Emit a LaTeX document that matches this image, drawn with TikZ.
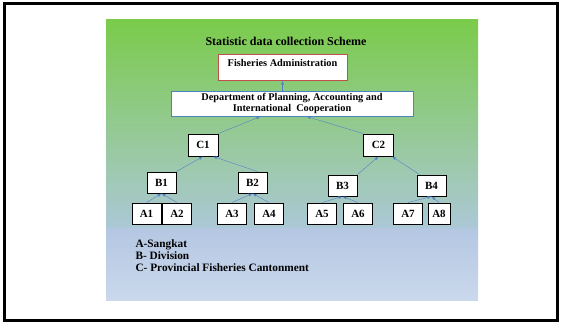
\documentclass[tikz,border=0pt]{standalone}
\usepackage{fontspec}
\setmainfont{Liberation Serif}
\usepackage{tikz}
\usetikzlibrary{arrows}
\usetikzlibrary{calc}
\definecolor{topgreen}{RGB}{122,203,74}
\definecolor{midgreen}{RGB}{160,204,150}
\definecolor{lowteal}{RGB}{172,200,214}
\definecolor{lowblue}{RGB}{180,199,226}
\definecolor{paleblue}{RGB}{202,216,236}
\definecolor{linkblue}{RGB}{84,130,200}
\definecolor{boxred}{RGB}{192,80,77}
\definecolor{boxblue}{RGB}{79,129,189}

\begin{document}
\begin{tikzpicture}[x=1pt,y=-1pt,
  unit/.style={draw,line width=1pt,fill=white,inner sep=0pt,minimum width=29pt,minimum height=21pt,font=\bfseries\fontsize{11}{12}\selectfont},
  link/.style={->,>=latex,thin,linkblue}]
\useasboundingbox (0,0) rectangle (561,322);
\draw[line width=3pt] (4.5,3.5) rectangle (557,320);

% background panel
\shade[top color=topgreen,middle color=midgreen,bottom color=lowteal] (106,19) rectangle (478,228);
\shade[top color=lowblue,bottom color=paleblue] (106,228) rectangle (478,300);

\node[font=\bfseries\fontsize{12}{14}\selectfont] (title) at (286,41) {Statistic data collection Scheme};

\node[draw=boxred,line width=1pt,fill=white,minimum width=129pt,inner sep=0pt,text height=12.5pt,text depth=13.5pt,font=\bfseries\fontsize{10.3}{12}\selectfont] (fa) at (282.5,67) {Fisheries Administration};
\node[draw=boxblue,line width=1pt,fill=white,minimum width=242pt,minimum height=25pt,inner sep=1pt,align=center,font=\bfseries\fontsize{10.3}{10.5}\selectfont] (dept) at (292,103.5) {Department of Planning, Accounting and\\International\ \ Cooperation};

\node[unit,minimum width=30pt,minimum height=22pt] (c1) at (203,145) {C1};
\node[unit,minimum width=30pt,minimum height=22pt] (c2) at (378.5,145) {C2};

\node[unit] (b1) at (161.5,182.5) {B1};
\node[unit] (b2) at (252.5,182.5) {B2};
\node[unit] (b3) at (342.5,185.5) {B3};
\node[unit] (b4) at (431.5,185.5) {B4};

\node[unit] (a1) at (146.5,213.5) {A1};
\node[unit] (a2) at (177,213.5) {A2};
\node[unit] (a3) at (232,213.5) {A3};
\node[unit] (a4) at (269,213.5) {A4};
\node[unit] (a5) at (322,213.5) {A5};
\node[unit] (a6) at (358,213.5) {A6};
\node[unit] (a7) at (408,213.5) {A7};
\node[unit,minimum width=22pt] (a8) at (439,213.5) {A8};

\draw[link] (dept.north -| fa.south) -- (fa.south);
\draw[link] (c1.north east) -- ($(dept.south west)!.37!(dept.south east)$);
\draw[link] (c2.north west) -- ($(dept.south west)!.56!(dept.south east)$);

\draw[link] (b1.north east) -- (c1.south);
\draw[link] ($(b2.north)+(5,0)$) -- ($(c1.south)+(10,0)$);
\draw[link] (b3.north east) -- (c2.south);
\draw[link] ($(b4.north west)+(3,0)$) -- ($(c2.south east)+(-2,0)$);

\draw[link] (a1.north) -- (b1.south);
\draw[link] (a2.north) -- (b1.south);
\draw[link] (a3.north) -- (b2.south);
\draw[link] (a4.north) -- (b2.south);
\draw[link] (a5.north) -- (b3.south);
\draw[link] (a6.north) -- (b3.south);
\draw[link] (a7.north) -- (b4.south);
\draw[link] (a8.north) -- (b4.south);

\node[anchor=north west,align=left,font=\bfseries\fontsize{11.3}{12}\selectfont] (legend) at (132,236) {A-Sangkat\\B- Division\\C- Provincial Fisheries Cantonment};
\end{tikzpicture}
\end{document}
